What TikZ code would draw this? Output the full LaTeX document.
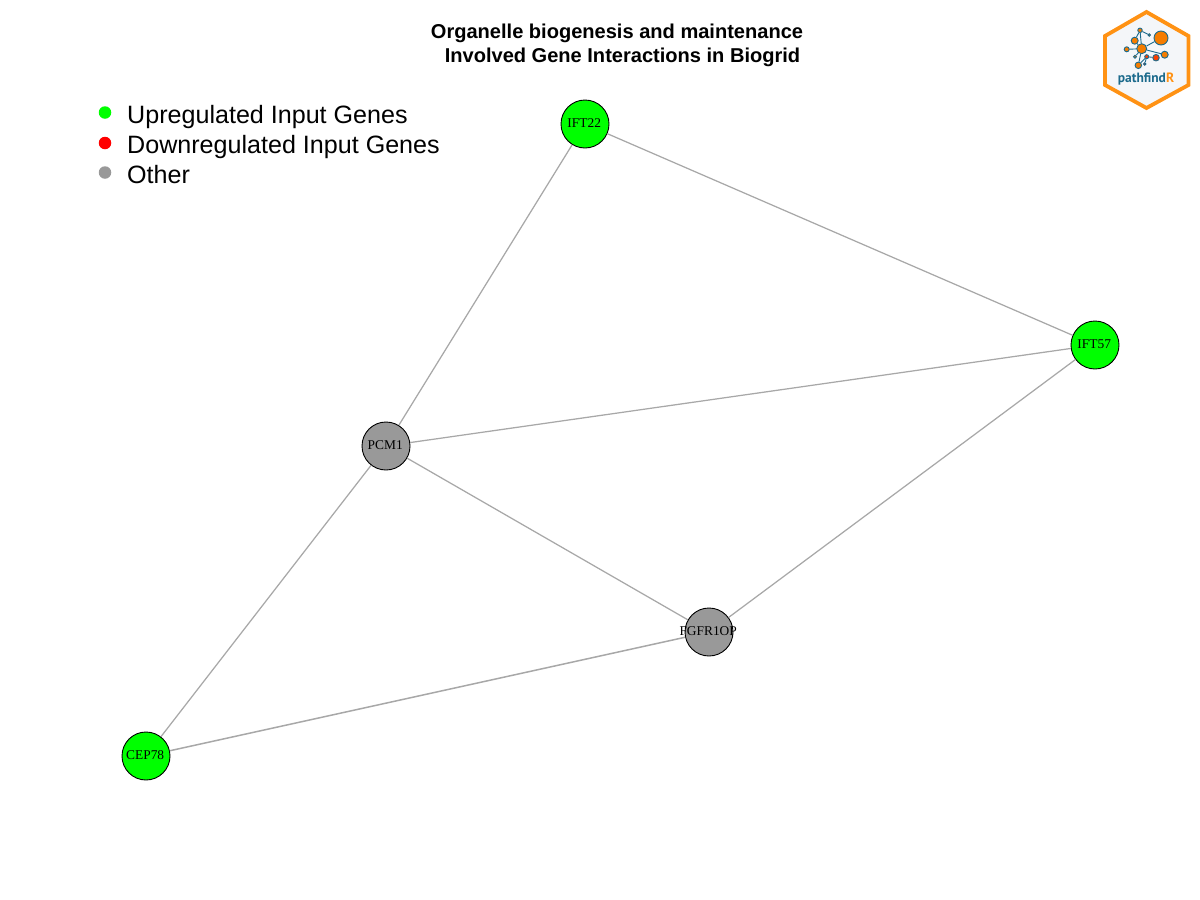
\documentclass[tikz,border=0pt]{standalone}
\usepackage{fontspec}
\setmainfont{Liberation Sans}
\newfontfamily\genefont{Liberation Serif}
\newfontfamily\logofont{PT Sans}
\usetikzlibrary{positioning}
\definecolor{upgreen}{HTML}{00FF00}
\definecolor{downred}{HTML}{FF0000}
\definecolor{othergray}{HTML}{999999}
\definecolor{linkgray}{HTML}{A8A8A8}
\definecolor{hexorange}{HTML}{FF9214}
\definecolor{hexfill}{HTML}{F4F6F9}
\definecolor{logoblue}{HTML}{1B6A8C}
\definecolor{logoorange}{HTML}{F57C00}
\begin{document}
\begin{tikzpicture}[
  x=1pt,y=-1pt,
  gene/.style={circle,draw=black,line width=0.9pt,minimum size=48pt,inner sep=0pt,
               label={[font=\genefont\fontsize{13.4}{13}\selectfont,text=black,xshift=-0.8pt,yshift=0.8pt]center:#1}},
  upgene/.style={gene=#1,fill=upgreen},
  othergene/.style={gene=#1,fill=othergray},
  link/.style={draw=linkgray,line width=1.25pt},
  titletext/.style={font=\fontsize{20.05}{22}\selectfont\bfseries,inner sep=0pt,anchor=base},
  legendtext/.style={font=\fontsize{25.1}{28}\selectfont,inner sep=0pt,anchor=base west},
  legenddot/.style={circle,minimum size=12.5pt,inner sep=0pt},
  logodot/.style={circle,draw=logoblue,line width=0.9pt,fill=logoorange,inner sep=0pt,minimum size=#1},
  logolink/.style={draw=logoblue,line width=0.9pt}
]
\useasboundingbox (0,0) rectangle (1200,900);

% gene network
\node[upgene=IFT22]     (IFT22) at (585,124) {};
\node[upgene=IFT57]     (IFT57) at (1095,345) {};
\node[othergene=PCM1]   (PCM1)  at (386,446) {};
\node[othergene=FGFR1OP](FGFR1OP) at (709,632) {};
\node[upgene=CEP78]     (CEP78) at (146,756) {};

\draw[link] (IFT22)--(IFT57);
\draw[link] (IFT22)--(PCM1);
\draw[link] (PCM1)--(IFT57);
\draw[link] (PCM1)--(FGFR1OP);
\draw[link] (PCM1)--(CEP78);
\draw[link] (FGFR1OP)--(IFT57);
\draw[link,line width=1.5pt] (FGFR1OP)--(CEP78);

% title
\node[titletext] (titleA) at (617,38) {Organelle biogenesis and maintenance};
\node[titletext] (titleB) at (622.5,62) {Involved Gene Interactions in Biogrid};

% legend
\node[legenddot,fill=upgreen]    (dotup)    at (105,112.5) {};
\node[legenddot,fill=downred]    (dotdown)  at (105,143) {};
\node[legenddot,fill=othergray]  (dotother) at (105,172.5) {};
\node[legendtext] (textup)    at (127,123) {Upregulated Input Genes};
\node[legendtext] (textdown)  at (127,153) {Downregulated Input Genes};
\node[legendtext] (textother) at (127,183) {Other};

% logo
\draw[hexorange,fill=hexfill,line width=3.8pt,line join=miter]
  (1146.5,12)--(1188.5,36)--(1188.5,85)--(1146.5,108)--(1105,85)--(1105,36)--cycle;
\node[logodot=14pt] (la) at (1161,38) {};
\node[logodot=10pt] (lb) at (1141.7,48.7) {};
\node[logodot=7pt]  (lc) at (1134.7,40.7) {};
\node[logodot=4.5pt](ld) at (1140,30.3) {};
\node[logodot=2.5pt](le) at (1149.3,35) {};
\node[logodot=5pt]  (lf) at (1126.7,49.3) {};
\node[logodot=3pt]  (lg) at (1135,56.7) {};
\node[logodot=6.5pt](lh) at (1138.3,65.3) {};
\node[logodot=2.5pt,fill=downred!80!logoorange](li) at (1144.7,64) {};
\node[logodot=4pt,fill=downred!50!logoorange]  (lj) at (1146.7,56.7) {};
\node[logodot=6.5pt,fill=downred!50!logoorange](lk) at (1156,57.7) {};
\node[logodot=7pt]  (ll) at (1164.7,54.7) {};
\draw[logolink] (lb)--(la);
\draw[logolink] (lb)--(lc);
\draw[logolink] (lc)--(ld);
\draw[logolink] (ld)--(le);
\draw[logolink] (ld)--(lb);
\draw[logolink] (lb)--(lf);
\draw[logolink] (lb)--(lg);
\draw[logolink] (lb)--(lh);
\draw[logolink] (lb)--(ll);
\draw[logolink] (lj)--(lh);
\draw[logolink] (lj)--(lk);
\draw[logolink] (lj)--(li);
\node[font=\logofont\fontsize{13.5}{13}\selectfont\bfseries,text=logoblue,inner sep=0pt] (logotext) at (1146,79.5)
  {pathfind\textcolor{hexorange}{R}};
\end{tikzpicture}
\end{document}
